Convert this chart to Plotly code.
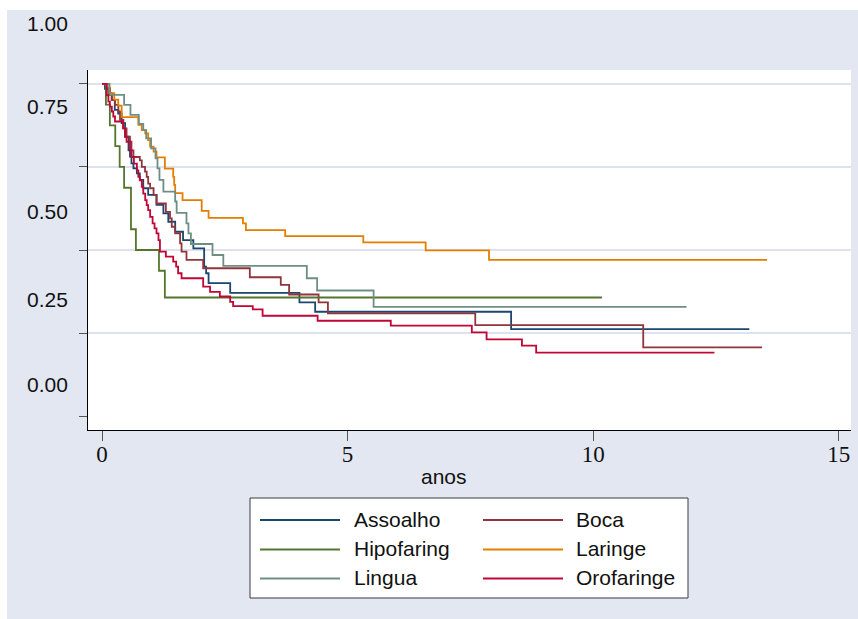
import plotly.graph_objects as go

# Kaplan-Meier survival estimates by tumour site (time in years)
assoalho_t = [0, 0.06, 0.13, 0.20, 0.26, 0.33, 0.40, 0.47, 0.54, 0.57, 0.60, 0.64, 0.71, 0.77,
              0.84, 0.94, 1.11, 1.25, 1.35, 1.49, 1.65, 1.86, 2.08, 2.12, 2.17, 2.61, 4.02,
              4.34, 8.33, 13.18]
assoalho_s = [1, 0.985, 0.967, 0.952, 0.922, 0.911, 0.882, 0.841, 0.80, 0.781, 0.761, 0.746,
              0.731, 0.711, 0.686, 0.666, 0.636, 0.61, 0.585, 0.555, 0.53, 0.505, 0.45, 0.43,
              0.40, 0.371, 0.342, 0.314, 0.262, 0.262]

boca_t = [0, 0.095, 0.163, 0.197, 0.265, 0.333, 0.367, 0.435, 0.50, 0.57, 0.60, 0.64, 0.77,
          0.81, 0.876, 0.91, 0.94, 0.98, 1.05, 1.11, 1.30, 1.385, 1.42, 1.49, 1.59, 1.62,
          1.72, 2.06, 3.01, 3.64, 3.81, 4.41, 4.60, 7.60, 11.02, 13.44]
boca_s = [1, 0.987, 0.972, 0.952, 0.937, 0.917, 0.892, 0.866, 0.841, 0.826, 0.80, 0.78, 0.77,
          0.75, 0.736, 0.72, 0.70, 0.686, 0.666, 0.64, 0.615, 0.595, 0.57, 0.55, 0.52, 0.495,
          0.47, 0.445, 0.418, 0.395, 0.366, 0.342, 0.309, 0.274, 0.207, 0.207]

hipofaring_t = [0, 0.08, 0.16, 0.27, 0.36, 0.45, 0.59, 0.69, 1.16, 1.28, 10.18]
hipofaring_s = [1, 0.938, 0.875, 0.8125, 0.75, 0.6875, 0.5625, 0.5, 0.4375, 0.357, 0.357]

laringe_t = [0, 0.15, 0.25, 0.33, 0.40, 0.74, 0.81, 0.88, 0.94, 0.98, 1.05, 1.11, 1.28, 1.45,
             1.47, 1.49, 1.64, 2.03, 2.17, 2.87, 2.93, 3.73, 5.32, 6.59, 7.88, 13.54]
laringe_s = [1, 0.972, 0.953, 0.935, 0.90, 0.877, 0.861, 0.851, 0.831, 0.811, 0.796, 0.779,
             0.745, 0.72, 0.696, 0.671, 0.65, 0.618, 0.597, 0.58, 0.56, 0.542, 0.523, 0.499,
             0.470, 0.470]

lingua_t = [0, 0.15, 0.45, 0.58, 0.75, 0.84, 0.90, 1.00, 1.09, 1.13, 1.17, 1.25, 1.49, 1.52,
            1.72, 1.76, 1.81, 2.25, 2.47, 4.17, 4.38, 5.53, 11.9]
lingua_s = [1, 0.967, 0.937, 0.907, 0.88, 0.861, 0.836, 0.806, 0.776, 0.746, 0.711, 0.676,
            0.646, 0.612, 0.58, 0.55, 0.518, 0.485, 0.452, 0.415, 0.378, 0.329, 0.329]

orofaringe_t = [0, 0.095, 0.13, 0.16, 0.20, 0.23, 0.265, 0.43, 0.47, 0.50, 0.57, 0.60, 0.65,
                0.71, 0.74, 0.77, 0.81, 0.84, 0.88, 0.91, 0.94, 0.98, 1.03, 1.07, 1.11, 1.15,
                1.18, 1.30, 1.45, 1.51, 1.55, 1.62, 2.06, 2.20, 2.40, 2.61, 2.67, 3.07, 3.27,
                4.39, 5.88, 7.53, 7.83, 8.55, 8.84, 12.47]
orofaringe_s = [1, 0.966, 0.947, 0.932, 0.917, 0.902, 0.887, 0.866, 0.841, 0.826, 0.80, 0.78,
                0.76, 0.74, 0.72, 0.71, 0.69, 0.67, 0.65, 0.635, 0.62, 0.60, 0.58, 0.565, 0.55,
                0.53, 0.495, 0.48, 0.465, 0.45, 0.43, 0.415, 0.39, 0.374, 0.36, 0.344, 0.331,
                0.321, 0.302, 0.287, 0.272, 0.252, 0.231, 0.212, 0.191, 0.191]

site_names = ["Assoalho", "Boca", "Hipofaring", "Laringe", "Lingua", "Orofaringe"]
site_times = [assoalho_t, boca_t, hipofaring_t, laringe_t, lingua_t, orofaringe_t]
site_surv = [assoalho_s, boca_s, hipofaring_s, laringe_s, lingua_s, orofaringe_s]
site_colors = ["#1a476f", "#90353b", "#55752f", "#e37e00", "#6e8e84", "#c10534"]

x_ticks = [0, 5, 10, 15]
x_title = "anos"
y_ticks = [0, 0.25, 0.5, 0.75, 1.0]
y_tick_labels = ["0.00", "0.25", "0.50", "0.75", "1.00"]
grid_values = [0.25, 0.5, 0.75, 1.0]

# canvas and plot-area geometry (pixels)
W, H = 858, 619
ML, MR, MT, MB = 88, 7, 70, 189
PW, PH = W - ML - MR, H - MT - MB
BG = "#e3e7f1"
TEXT = "#111111"
SANS = "Liberation Sans, Arial"
SANS_SIZE = 21


def fx(px):
    return (px - ML) / PW


def fy(py):
    return (H - MB - py) / PH


fig = go.Figure()
for name, t, s, c in zip(site_names, site_times, site_surv, site_colors):
    fig.add_trace(go.Scatter(x=t, y=s, mode="lines", name=name,
                             line=dict(color=c, width=1.8, shape="hv"),
                             showlegend=False))

shapes = []
# horizontal grid lines
for v in grid_values:
    shapes.append(dict(type="line", xref="paper", yref="y", x0=0, x1=1, y0=v, y1=v,
                       line=dict(color="#dde2ee", width=2), layer="below"))
# thin white frame along the top and left edges of the canvas
shapes.append(dict(type="rect", xref="paper", yref="paper", x0=fx(0), x1=fx(W),
                   y0=fy(10), y1=fy(0), fillcolor="white", line=dict(width=0)))
shapes.append(dict(type="rect", xref="paper", yref="paper", x0=fx(0), x1=fx(7),
                   y0=fy(H), y1=fy(0), fillcolor="white", line=dict(width=0)))

annotations = []
# y tick labels
y_label_px = {"1.00": 23, "0.75": 107, "0.50": 211, "0.25": 299, "0.00": 384}
for lab in y_tick_labels:
    annotations.append(dict(text=lab, xref="paper", yref="paper", x=fx(47), y=fy(y_label_px[lab]),
                            xanchor="center", yanchor="middle", showarrow=False,
                            font=dict(family=SANS, size=SANS_SIZE, color=TEXT)))

# x axis title
annotations.append(dict(text=x_title, xref="paper", yref="paper", x=fx(444), y=fy(476),
                        xanchor="center", yanchor="middle", showarrow=False,
                        font=dict(family=SANS, size=SANS_SIZE, color=TEXT)))

# legend box with line keys
shapes.append(dict(type="rect", xref="paper", yref="paper", x0=fx(250), x1=fx(688),
                   y0=fy(598), y1=fy(498), fillcolor="white",
                   line=dict(color="#3a3a3a", width=1)))
col_line = [(260, 340), (483, 563)]
col_text = [352, 574]
row_y = [520, 549.5, 578.5]
for i, (name, c) in enumerate(zip(site_names, site_colors)):
    r, col = divmod(i, 2)
    x0, x1 = col_line[col]
    shapes.append(dict(type="line", xref="paper", yref="paper", x0=fx(x0), x1=fx(x1),
                       y0=fy(row_y[r]), y1=fy(row_y[r]), line=dict(color=c, width=1.8)))
    annotations.append(dict(text=name, xref="paper", yref="paper", x=fx(col_text[col]),
                            y=fy(row_y[r] - 1), xanchor="left", yanchor="middle",
                            showarrow=False,
                            font=dict(family=SANS, size=SANS_SIZE, color=TEXT)))

fig.update_layout(
    width=W, height=H,
    margin=dict(l=ML, r=MR, t=MT, b=MB, pad=0),
    paper_bgcolor=BG, plot_bgcolor="white",
    showlegend=False,
    shapes=shapes, annotations=annotations,
    xaxis=dict(range=[-0.285, 15.25], tickvals=x_ticks, ticks="outside", ticklen=10,
               tickcolor="#555555", tickwidth=1, showline=True, linecolor="black",
               linewidth=1.2, showgrid=False, zeroline=False, ticklabelstandoff=-7,
               tickfont=dict(family="Liberation Serif, Times New Roman", size=23, color=TEXT)),
    yaxis=dict(range=[-0.042, 1.042], tickvals=y_ticks, showticklabels=False,
               ticks="outside", ticklen=8, tickcolor="#555555", tickwidth=1,
               showline=True, linecolor="black", linewidth=1.2, showgrid=False,
               zeroline=False),
)

fig.write_html("out.html")
